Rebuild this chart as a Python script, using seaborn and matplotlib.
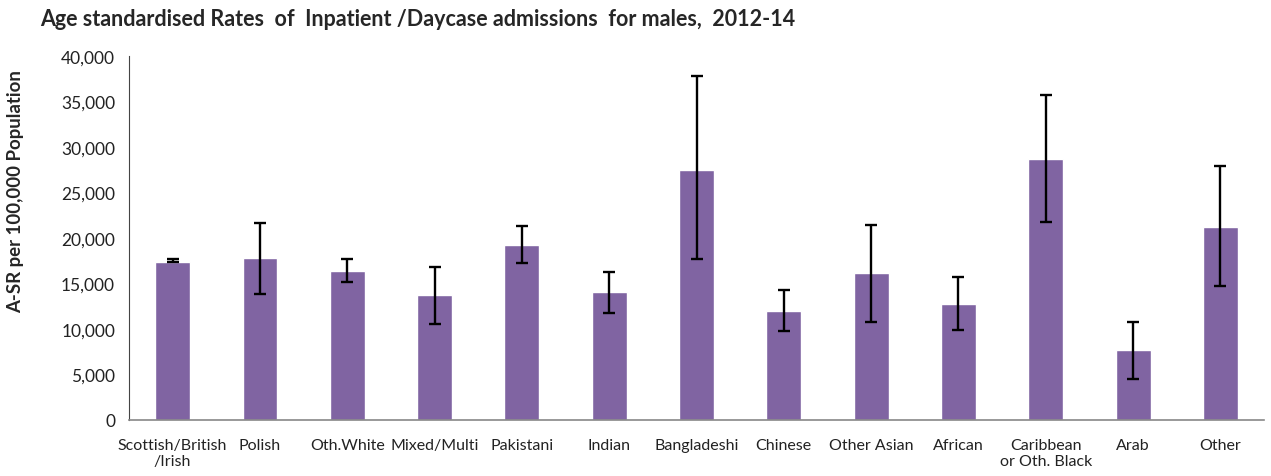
import numpy as np
import pandas as pd
import seaborn as sns
import matplotlib
matplotlib.use('Agg')
import matplotlib.pyplot as plt

groups = ['Scottish/British\n/Irish', 'Polish', 'Oth.White', 'Mixed/Multi', 'Pakistani',
          'Indian', 'Bangladeshi', 'Chinese', 'Other Asian', 'African',
          'Caribbean\nor Oth. Black', 'Arab', 'Other']
rate = [17400, 17850, 16400, 13700, 19270, 14030, 27500, 12000, 16200, 12700, 28700, 7700, 21200]
ci_low = [17330, 13850, 15200, 10550, 17250, 11800, 17660, 9800, 10800, 9900, 21800, 4500, 14700]
ci_high = [17660, 21700, 17660, 16860, 21300, 16300, 37800, 14300, 21400, 15700, 35700, 10800, 27900]

df = pd.DataFrame({'group': groups, 'rate': rate, 'low': ci_low, 'high': ci_high})

sns.set_style('white')
plt.rcParams['font.family'] = ['Lato', 'DejaVu Sans']

fig, ax = plt.subplots(figsize=(12.71, 4.77), dpi=100)
fig.subplots_adjust(left=129/1271, right=1264/1271, top=1-57/477, bottom=1-421/477)

sns.barplot(data=df, x='group', y='rate', color='#8064A2', saturation=1, width=0.4,
            errorbar=None, ax=ax)
yerr = np.array([df['rate'] - df['low'], df['high'] - df['rate']])
ax.errorbar(np.arange(len(df)), df['rate'], yerr=yerr, fmt='none', ecolor='black',
            elinewidth=1.7, capsize=4.5, capthick=1.7)

ax.set_ylim(0, 40000)
ax.set_xlim(-0.5, len(df) - 0.5)
ax.set_yticks(range(0, 40001, 5000))
ax.set_yticklabels([f'{v:,}' for v in range(0, 40001, 5000)], fontsize=12.5, color='#222222')
ax.tick_params(axis='x', labelsize=11.5, length=0, pad=13, colors='#222222')
ax.tick_params(axis='y', length=0, pad=10)
ax.set_xlabel('')
ax.set_ylabel('A-SR per 100,000 Population', fontsize=13.4, fontweight='bold')
ax.yaxis.set_label_coords(-0.092, 0.63)

sns.despine(ax=ax, top=True, right=True)
ax.spines['left'].set_color('#444444')
ax.spines['bottom'].set_color('#888888')
ax.spines['bottom'].set_linewidth(1.2)

fig.text(40/1271, 1-19/477, 'Age standardised Rates  of  Inpatient /Daycase admissions  for males,  2012-14',
         fontsize=15.5, fontweight='bold', va='center', ha='left')

fig.savefig('out.png', dpi=100)
